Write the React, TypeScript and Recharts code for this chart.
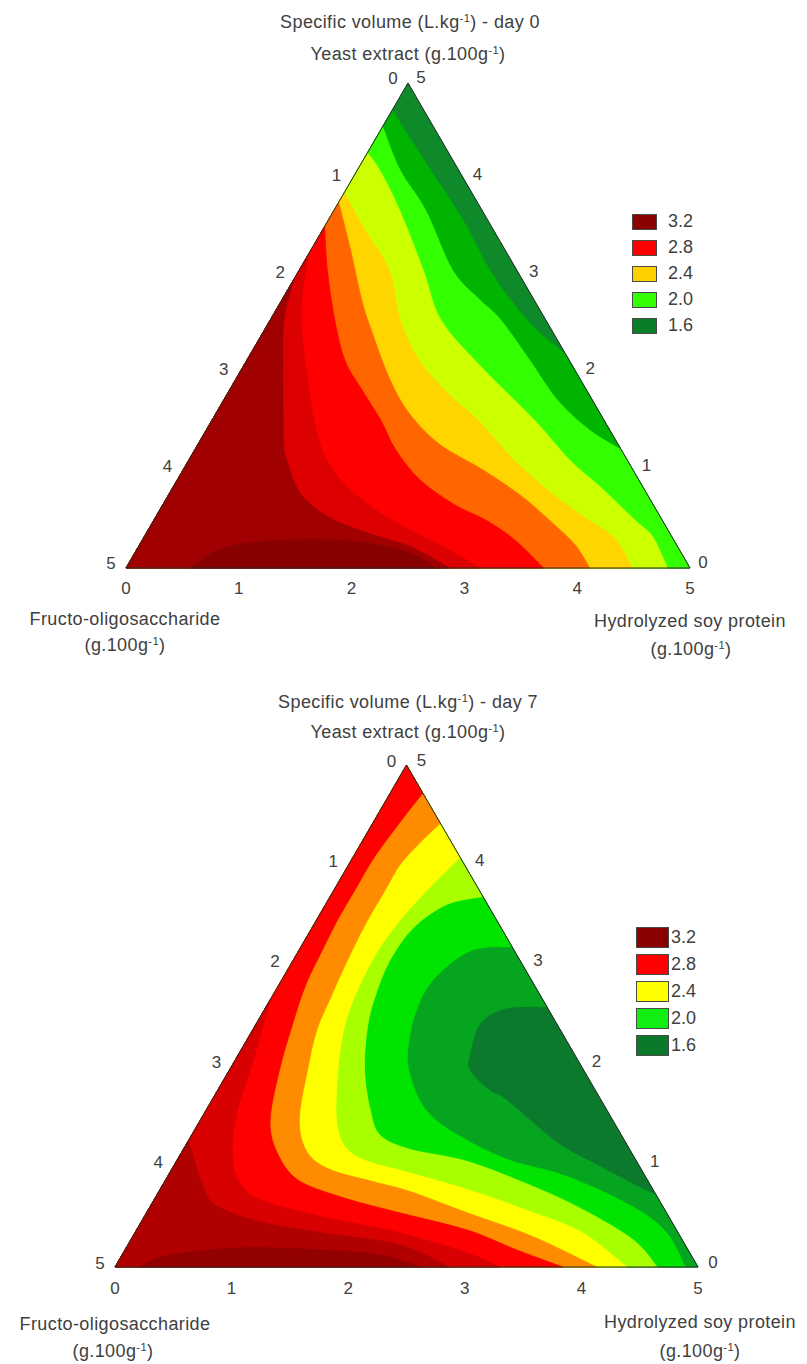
import React from 'react';
import { ScatterChart, Scatter, XAxis, YAxis } from 'recharts';

// Points are [Hydrolyzed soy protein, Yeast extract] in g.100g-1; Fructo-oligosaccharide = 5 - sum
type P = [number, number];

const H = Math.sqrt(3) / 2;
const FONT = '"Liberation Sans", Arial, sans-serif';
const TEXT = '#404040';

const axisTicks = [0, 1, 2, 3, 4, 5];
const legendLevels = ['3.2', '2.8', '2.4', '2.0', '1.6'];

const CORNER_FOS: P = [0, 0];
const CORNER_HSP: P = [5, 0];
const CORNER_YE: P = [0, 5];

// ---------- Day 0 isolines ----------
const day0Iso1: P[] = [[0, 4.72], [0.65, 4.1], [1.19, 3.59], [1.69, 3.07], [2.09, 2.71], [2.42, 2.45], [2.8, 2.2]];
const day0Iso2: P[] = [[0, 4.55], [0.38, 4.1], [0.81, 3.69], [1.36, 3.07], [1.76, 2.76], [2.04, 2.56], [2.51, 2.14], [2.96, 1.73], [3.4, 1.42], [3.78, 1.22]];
const day0Iso3: P[] = [[0, 4.28], [0.2, 4.1], [0.58, 3.69], [1.1, 3.07], [1.51, 2.56], [2.09, 2.09], [2.85, 1.53], [3.38, 1.11], [3.78, 0.84], [4.27, 0.49], [4.51, 0.32], [4.8, 0]];
const day0Iso4: P[] = [[0, 3.87], [0.38, 3.48], [0.8, 3.07], [1.15, 2.56], [1.53, 2.14], [1.98, 1.78], [2.35, 1.53], [2.82, 1.16], [3.28, 0.84], [3.75, 0.55], [4.16, 0.32], [4.49, 0]];
const day0Iso5: P[] = [[0, 3.77], [0.35, 3.28], [0.71, 2.76], [0.95, 2.45], [1.37, 1.94], [1.73, 1.58], [2.15, 1.27], [2.66, 1.01], [3.12, 0.75], [3.51, 0.49], [3.86, 0.24], [4.11, 0]];
const day0Iso6: P[] = [[0, 3.52], [0.25, 3.07], [0.57, 2.56], [0.87, 2.14], [1.17, 1.84], [1.49, 1.53], [1.78, 1.22], [2.15, 0.91], [2.59, 0.65], [2.95, 0.49], [3.3, 0.29], [3.7, 0]];
const day0Iso7: P[] = [[0, 3.23], [0.18, 2.76], [0.39, 2.35], [0.64, 1.94], [0.9, 1.53], [1.18, 1.16], [1.51, 0.86], [1.91, 0.6], [2.32, 0.39], [2.72, 0.21], [3.14, 0]];
const day0Iso8: P[] = [[0, 2.97], [0.12, 2.56], [0.32, 2.14], [0.72, 1.35], [0.87, 1.11], [1.16, 0.77], [1.52, 0.53], [1.96, 0.36], [2.41, 0.22], [2.87, 0]];
const day0Iso9: P[] = [[0.57, 0], [0.72, 0.18], [1.04, 0.27], [1.6, 0.29], [2.05, 0.25], [2.45, 0.15], [2.75, 0]];

// ---------- Day 7 isolines ----------
const day7Iso1: P[] = [[2.41, 2.59], [2.07, 2.58], [1.92, 2.43], [1.98, 2.13], [2.06, 1.96], [2.33, 1.76], [2.53, 1.66], [3.17, 1.24], [3.66, 1.0], [4.11, 0.79], [4.28, 0.72]];
const day7Iso2: P[] = [[1.81, 3.19], [1.49, 3.16], [1.32, 2.93], [1.29, 2.66], [1.38, 2.29], [1.56, 1.93], [1.98, 1.49], [2.75, 1.1], [3.43, 0.9], [4.14, 0.6], [4.56, 0.34], [4.89, 0]];
const day7Iso3: P[] = [[1.31, 3.69], [1.04, 3.61], [0.87, 3.38], [0.83, 3.06], [0.88, 2.71], [0.97, 2.39], [1.16, 1.96], [1.41, 1.56], [1.62, 1.31], [1.95, 1.17], [2.5, 1.05], [3.19, 0.8], [3.73, 0.57], [4.31, 0.27], [4.65, 0]];
const day7Iso4: P[] = [[0.92, 4.08], [0.81, 3.78], [0.73, 3.51], [0.68, 3.19], [0.69, 2.86], [0.74, 2.51], [0.85, 2.16], [1.02, 1.76], [1.17, 1.46], [1.35, 1.22], [1.59, 1.07], [2.01, 0.95], [2.64, 0.77], [3.32, 0.54], [3.84, 0.34], [4.39, 0]];
const day7Iso5: P[] = [[0.58, 4.42], [0.5, 4.22], [0.44, 4.0], [0.44, 3.76], [0.44, 3.41], [0.47, 3.01], [0.51, 2.66], [0.55, 2.36], [0.67, 1.96], [0.85, 1.46], [1.08, 1.14], [1.36, 0.97], [1.79, 0.85], [2.16, 0.75], [2.75, 0.54], [3.44, 0.3], [4.13, 0]];
const day7Iso6: P[] = [[0.28, 4.72], [0.24, 4.5], [0.21, 4.3], [0.18, 4.05], [0.18, 3.76], [0.18, 3.46], [0.2, 3.16], [0.23, 2.81], [0.32, 2.39], [0.43, 1.96], [0.6, 1.46], [0.82, 1.14], [1.13, 0.87], [1.58, 0.7], [2.13, 0.55], [2.83, 0.37], [3.36, 0.17], [3.84, 0]];
const day7Iso7: P[] = [[0, 2.66], [0.08, 2.36], [0.18, 1.96], [0.27, 1.56], [0.42, 1.17], [0.62, 0.87], [0.91, 0.67], [1.53, 0.5], [2.27, 0.34], [2.95, 0.14], [3.3, 0]];
const day7Iso8: P[] = [[0, 1.26], [0.3, 0.87], [0.55, 0.62], [1.02, 0.45], [1.61, 0.34], [2.33, 0.22], [2.87, 0]];
const day7Iso9: P[] = [[0.21, 0], [0.41, 0.12], [0.98, 0.19], [1.7, 0.17], [2.21, 0.12], [2.62, 0]];

const day0Colors = ['#0e8a2b', '#00b400', '#33ff00', '#ccff00', '#ffd500', '#ff6600', '#ff0000', '#dc0000', '#a00000', '#880000'];
const day7Colors = ['#0b7a2c', '#06a51f', '#00e400', '#a8ff00', '#ffff00', '#ff8c00', '#ff0000', '#d80000', '#b00000', '#930000'];
const day0Legend = ['#8b0000', '#ff0000', '#ffd000', '#33ff00', '#0a7d28'];
const day7Legend = ['#8b0000', '#ff0000', '#ffff00', '#11ee11', '#0a7a2a'];

// Each region: isoline (smoothed) followed by the triangle corners that close it
const day0Regions: { iso: P[]; corners: P[] }[] = [
  { iso: [], corners: [CORNER_FOS, CORNER_HSP, CORNER_YE] },
  { iso: day0Iso1, corners: [CORNER_HSP, CORNER_FOS] },
  { iso: day0Iso2, corners: [CORNER_HSP, CORNER_FOS] },
  { iso: day0Iso3, corners: [CORNER_FOS] },
  { iso: day0Iso4, corners: [CORNER_FOS] },
  { iso: day0Iso5, corners: [CORNER_FOS] },
  { iso: day0Iso6, corners: [CORNER_FOS] },
  { iso: day0Iso7, corners: [CORNER_FOS] },
  { iso: day0Iso8, corners: [CORNER_FOS] },
  { iso: day0Iso9, corners: [] },
];

const day7Regions: { iso: P[]; corners: P[] }[] = [
  { iso: [], corners: [CORNER_FOS, CORNER_HSP, CORNER_YE] },
  { iso: day7Iso1, corners: [CORNER_HSP, CORNER_FOS, CORNER_YE] },
  { iso: day7Iso2, corners: [CORNER_FOS, CORNER_YE] },
  { iso: day7Iso3, corners: [CORNER_FOS, CORNER_YE] },
  { iso: day7Iso4, corners: [CORNER_FOS, CORNER_YE] },
  { iso: day7Iso5, corners: [CORNER_FOS, CORNER_YE] },
  { iso: day7Iso6, corners: [CORNER_FOS, CORNER_YE] },
  { iso: day7Iso7, corners: [CORNER_FOS] },
  { iso: day7Iso8, corners: [CORNER_FOS] },
  { iso: day7Iso9, corners: [] },
];

const toCart = (p: P) => ({ x: p[0] + p[1] / 2, y: p[1] * H });

const tickData = [
  ...axisTicks.map((k) => ({ ...toCart([k, 0]), label: String(k), edge: 'b' })),
  ...axisTicks.map((k) => ({ ...toCart([0, 5 - k]), label: String(k), edge: 'l' })),
  ...axisTicks.map((k) => ({ ...toCart([5 - k, k]), label: String(k), edge: 'r' })),
];

// Closed path: first nSmooth points joined by a Catmull-Rom curve, the rest straight (triangle edges)
const polyLine = (fill: string, stroke: string, sw: number, nSmooth: number) => (props: any) => {
  const pts = (props.points || []).filter((q: any) => q && q.x != null && q.y != null);
  if (!pts.length) return <g />;
  let d = `M${pts[0].x},${pts[0].y}`;
  for (let i = 1; i < pts.length; i++) {
    const p1 = pts[i - 1];
    const p2 = pts[i];
    if (i < nSmooth) {
      const p0 = pts[Math.max(0, i - 2)];
      const p3 = pts[Math.min(nSmooth - 1, i + 1)];
      const c1x = p1.x + (p2.x - p0.x) / 6;
      const c1y = p1.y + (p2.y - p0.y) / 6;
      const c2x = p2.x - (p3.x - p1.x) / 6;
      const c2y = p2.y - (p3.y - p1.y) / 6;
      d += `C${c1x},${c1y} ${c2x},${c2y} ${p2.x},${p2.y}`;
    } else {
      d += `L${p2.x},${p2.y}`;
    }
  }
  d += 'Z';
  return <path d={d} fill={fill} stroke={stroke} strokeWidth={sw} strokeLinejoin="round" />;
};

const Empty = () => <g />;

function Ternary({ regions, colors, width, height, margin, tickOff }: any) {
  const TickShape = (p: any) => {
    const [dx, dy] = tickOff[p.payload.edge];
    return (
      <text x={p.cx + dx} y={p.cy + dy} textAnchor="middle" dominantBaseline="central" fontSize={17} fill={TEXT} fontFamily={FONT}>
        {p.payload.label}
      </text>
    );
  };
  return (
    <ScatterChart width={width} height={height} margin={margin}>
      <XAxis type="number" dataKey="x" domain={[0, 5]} hide />
      <YAxis type="number" dataKey="y" domain={[0, 5 * H]} hide />
      {regions.map((r: { iso: P[]; corners: P[] }, i: number) => (
        <Scatter
          key={i}
          data={[...r.iso, ...r.corners].map(toCart)}
          isAnimationActive={false}
          shape={Empty}
          line={polyLine(colors[i], colors[i], 0.8, r.iso.length)}
          lineType="joint"
        />
      ))}
      <Scatter
        data={[CORNER_FOS, CORNER_HSP, CORNER_YE].map(toCart)}
        isAnimationActive={false}
        shape={Empty}
        line={polyLine('none', '#2b2b2b', 1, 0)}
        lineType="joint"
      />
      <Scatter data={tickData} isAnimationActive={false} shape={TickShape} />
    </ScatterChart>
  );
}

const Sup = () => <span style={{ fontSize: '0.62em', verticalAlign: '0.55em', lineHeight: 0 }}>-1</span>;

function Txt({ cx, cy, size = 18, children }: any) {
  return (
    <div
      style={{
        position: 'absolute',
        left: cx - 200,
        width: 400,
        top: cy - size * 0.6,
        height: size * 1.2,
        lineHeight: `${size * 1.2}px`,
        textAlign: 'center',
        fontSize: size,
        whiteSpace: 'nowrap',
        letterSpacing: 0.4,
      }}
    >
      {children}
    </div>
  );
}

function LegendBox({ left, top, w, h, gap, textLeft, colors, size }: any) {
  return (
    <>
      {legendLevels.map((lv, i) => (
        <React.Fragment key={lv}>
          <div
            style={{
              position: 'absolute',
              left,
              top: top + i * gap,
              width: w,
              height: h,
              boxSizing: 'border-box',
              background: colors[i],
              border: '1px solid #4a4a4a',
            }}
          />
          <div
            style={{
              position: 'absolute',
              left: textLeft,
              top: top + i * gap + h / 2 - size * 0.6,
              lineHeight: `${size * 1.2}px`,
              fontSize: size,
            }}
          >
            {lv}
          </div>
        </React.Fragment>
      ))}
    </>
  );
}

export default function App() {
  return (
    <div style={{ position: 'absolute', left: 0, top: 0, width: 807, height: 1364, background: '#fff', fontFamily: FONT, color: TEXT, overflow: 'hidden' }}>
      <div style={{ position: 'absolute', left: 0, top: 0 }}>
        <Ternary
          regions={day0Regions}
          colors={day0Colors}
          width={807}
          height={680}
          margin={{ top: 83, left: 126, right: 117, bottom: 112 }}
          tickOff={{ b: [0, 20], l: [-15, -5], r: [13, -6] }}
        />
      </div>
      <div style={{ position: 'absolute', left: 0, top: 680 }}>
        <Ternary
          regions={day7Regions}
          colors={day7Colors}
          width={807}
          height={684}
          margin={{ top: 85, left: 115, right: 109, bottom: 97 }}
          tickOff={{ b: [0, 21], l: [-15, -4], r: [15, -5] }}
        />
      </div>

      <Txt cx={410} cy={23}>Specific volume (L.kg<Sup />) - day 0</Txt>
      <Txt cx={408} cy={55}>Yeast extract (g.100g<Sup />)</Txt>
      <Txt cx={125} cy={620}>Fructo-oligosaccharide</Txt>
      <Txt cx={125} cy={646}>(g.100g<Sup />)</Txt>
      <Txt cx={690} cy={622}>Hydrolyzed soy protein</Txt>
      <Txt cx={691} cy={650}>(g.100g<Sup />)</Txt>
      <LegendBox left={632} top={214} w={25} h={16} gap={26} textLeft={668} colors={day0Legend} size={18} />

      <Txt cx={408} cy={703}>Specific volume (L.kg<Sup />) - day 7</Txt>
      <Txt cx={408} cy={733}>Yeast extract (g.100g<Sup />)</Txt>
      <Txt cx={115} cy={1325}>Fructo-oligosaccharide</Txt>
      <Txt cx={113} cy={1352}>(g.100g<Sup />)</Txt>
      <Txt cx={700} cy={1323}>Hydrolyzed soy protein</Txt>
      <Txt cx={700} cy={1352}>(g.100g<Sup />)</Txt>
      <LegendBox left={636} top={927} w={33} h={21} gap={27} textLeft={671} colors={day7Legend} size={18} />
    </div>
  );
}
